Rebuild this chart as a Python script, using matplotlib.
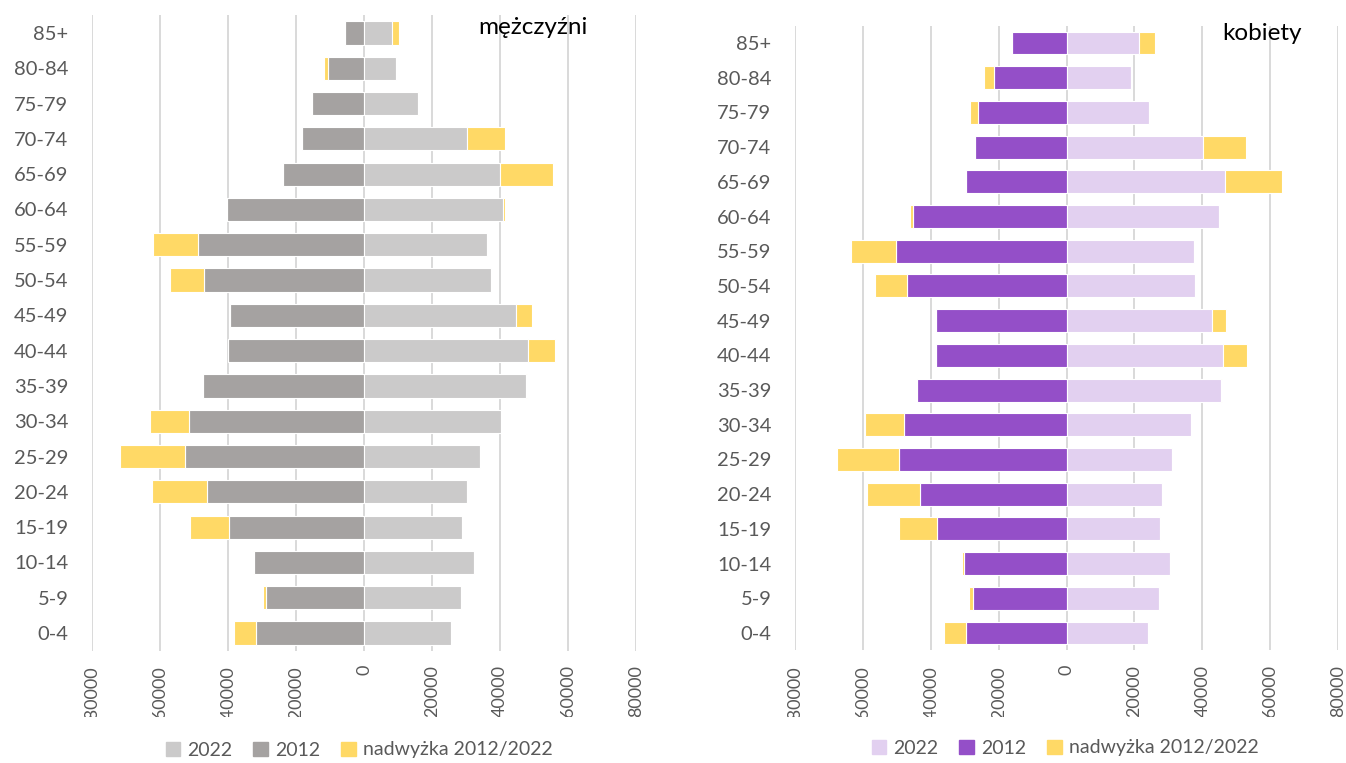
import matplotlib
matplotlib.use("Agg")
import matplotlib.pyplot as plt
import matplotlib.transforms as mtransforms
from matplotlib.patches import Patch
import numpy as np

plt.rcParams['font.family'] = ['Lato', 'DejaVu Sans']

# grupy wieku, od najmłodszej (dół) do najstarszej (góra)
age_groups = ['0-4', '5-9', '10-14', '15-19', '20-24', '25-29', '30-34', '35-39',
              '40-44', '45-49', '50-54', '55-59', '60-64', '65-69', '70-74',
              '75-79', '80-84', '85+']

# mężczyźni
men_2012 = [31760, 28830, 32210, 39750, 46170, 52700, 51460, 47300, 39980,
            39530, 47010, 48920, 40250, 23690, 18220, 15410, 10700, 5730]
men_2022 = [25450, 28490, 32210, 28720, 30290, 34120, 40430, 47750, 48090,
            44710, 37320, 36050, 41020, 39870, 30190, 15920, 9550, 8150]
# nadwyżka rysowana po stronie 2012 (lewa) i po stronie 2022 (prawa)
men_surplus_2012 = [6530, 790, 340, 11380, 16330, 18920, 11490, 0, 0,
                    0, 9930, 13250, 0, 0, 0, 0, 1150, 0]
men_surplus_2022 = [0, 0, 0, 0, 0, 0, 0, 300, 8100,
                    4840, 0, 0, 380, 15670, 11210, 200, 0, 2040]

# kobiety
women_2012 = [29680, 27660, 30320, 38190, 43190, 49260, 47770, 43940, 38510,
              38400, 46910, 50320, 45320, 29570, 26910, 26170, 21380, 16060]
women_2022 = [24040, 27230, 30530, 27550, 28190, 31170, 36810, 45430, 46060,
              42980, 37770, 37450, 44790, 46810, 40100, 24360, 18940, 21380]
women_surplus_2012 = [6280, 1060, 420, 11170, 15640, 18400, 11490, 0, 0,
                      0, 9580, 13300, 850, 0, 0, 2340, 2980, 0]
women_surplus_2022 = [0, 0, 0, 0, 0, 0, 0, 530, 7130,
                      4150, 0, 0, 0, 16810, 12880, 0, 0, 4680]

x_ticks = [-80000, -60000, -40000, -20000, 0, 20000, 40000, 60000, 80000]

YELLOW = '#FFD966'
LABEL = '#595959'
GRID = '#D9D9D9'

W, H = 1346, 763
fig = plt.figure(figsize=(W / 100, H / 100), dpi=100)

# clip dolnej krawędzi etykiet osi X (jak w oryginale)
clip_y = (H - 717) / H
clip_box = mtransforms.TransformedBbox(
    mtransforms.Bbox([[0, clip_y], [1, 1]]), fig.transFigure)


def pyramid(rect, v2012, v2022, s2012, s2022, c2012, c2022, title, title_xy, legend_xy):
    ax = fig.add_axes(rect)
    y = np.arange(len(age_groups))
    h = 0.66
    kw = dict(height=h, edgecolor='white', linewidth=0.8, zorder=3)
    left = -np.array(v2012)
    ax.barh(y, left, color=c2012, **kw)
    ax.barh(y, -np.array(s2012), left=left, color=YELLOW, **kw)
    ax.barh(y, v2022, color=c2022, **kw)
    ax.barh(y, s2022, left=v2022, color=YELLOW, **kw)

    ax.set_xlim(-80000, 80000)
    ax.set_ylim(-0.5, len(age_groups) - 0.5)
    ax.set_yticks(y)
    ax.set_yticklabels(age_groups, fontsize=14.5, color=LABEL)
    ax.set_xticks(x_ticks)
    ax.tick_params(length=0, labelbottom=False)
    ax.tick_params(axis='y', pad=17)
    ax.grid(axis='x', color=GRID, linewidth=1.4, zorder=0)
    ax.set_axisbelow(True)
    for sp in ax.spines.values():
        sp.set_visible(False)

    trans = mtransforms.blended_transform_factory(ax.transData, fig.transFigure)
    for t in x_ticks:
        txt = fig.text(t, (H - 665) / H, str(t), transform=trans, rotation=90,
                       ha='center', va='top', fontsize=13, color=LABEL)
        txt.set_clip_on(True)
        txt.set_clip_box(clip_box)

    fig.text(title_xy[0] / W, 1 - title_xy[1] / H, title, fontsize=17.5,
             color='black', ha='left', va='center')

    handles = [Patch(color=c2022, label='2022'), Patch(color=c2012, label='2012'),
               Patch(color=YELLOW, label='nadwyżka 2012/2022')]
    fig.legend(handles=handles, loc='center', ncol=3, frameon=False,
               bbox_to_anchor=(legend_xy[0] / W, 1 - legend_xy[1] / H),
               fontsize=14, labelcolor=LABEL, handlelength=0.75, handleheight=0.75,
               handletextpad=0.35, columnspacing=1.1)
    return ax


pyramid([92 / W, 1 - 650.7 / H, 544 / W, 635.4 / H],
        men_2012, men_2022, men_surplus_2012, men_surplus_2022,
        '#A5A2A1', '#CBCACA', 'mężczyźni', (478, 27), (359, 750))
pyramid([795 / W, 1 - 650.4 / H, 543 / W, 624.8 / H],
        women_2012, women_2022, women_surplus_2012, women_surplus_2022,
        '#944FC8', '#E2D0F0', 'kobiety', (1222, 34), (1065, 748))

fig.savefig('out.png', dpi=100)
